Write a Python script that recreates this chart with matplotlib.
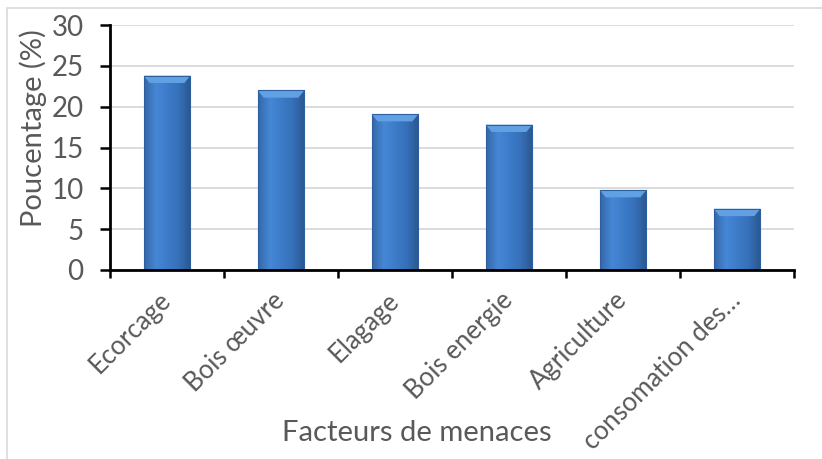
import matplotlib.pyplot as plt
import numpy as np
from matplotlib.colors import LinearSegmentedColormap
from matplotlib.patches import Polygon, Rectangle

categories = ["Ecorcage", "Bois œuvre", "Elagage", "Bois energie",
              "Agriculture", "consomation des…"]
values = [23.8, 22.0, 19.1, 17.8, 9.8, 7.5]
yticks = [0, 5, 10, 15, 20, 25, 30]

plt.rcParams['font.family'] = ['Lato', 'DejaVu Sans']
grey = '#595959'

fig = plt.figure(figsize=(8.22, 4.59), dpi=100)
ax = fig.add_axes([110 / 822, 1 - 270 / 459, 684 / 822, 245 / 459])

x = np.arange(len(categories))
bars = ax.bar(x, values, width=0.41, color='#3b78c6', edgecolor='none', zorder=3)

# horizontal shading + bevelled top on each bar
shade = LinearSegmentedColormap.from_list(
    'shade', ['#3567a8', '#4687d6', '#3d7bc8', '#3670b9', '#2a578e'])
grad = np.linspace(0, 1, 64).reshape(1, -1)
for b in bars:
    x0, w, h = b.get_x(), b.get_width(), b.get_height()
    im = ax.imshow(grad, cmap=shade, extent=[x0, x0 + w, 0, h], aspect='auto',
                   zorder=3.5, interpolation='bicubic')
    im.set_clip_path(b)
    bev = 0.9
    dx = w * 0.13
    ax.add_patch(Polygon([[x0, h], [x0 + w, h], [x0 + w - dx, h - bev], [x0 + dx, h - bev]],
                         closed=True, facecolor='#62a0e4', edgecolor='none', zorder=4))
ax.bar(x, values, width=0.41, fill=False, edgecolor='#2d5f9e', linewidth=0.8, zorder=5)

ax.set_xlim(-0.5, len(categories) - 0.5)
ax.set_ylim(0, 30)
ax.set_aspect('auto')

for s in ['top', 'right']:
    ax.spines[s].set_visible(False)
for s in ['left', 'bottom']:
    ax.spines[s].set_linewidth(2)
    ax.spines[s].set_color('black')
    ax.spines[s].set_zorder(6)

ax.yaxis.grid(True, color='#d9d9d9', linewidth=1.3, zorder=0)
ax.set_axisbelow(True)

ax.set_yticks(yticks)
ax.tick_params(axis='y', length=7, width=1.8, pad=12, labelsize=20, labelcolor=grey)

ax.set_xticks(np.arange(-0.5, len(categories)), [''] * (len(categories) + 1))
ax.tick_params(axis='x', which='major', length=6, width=1.8)
ax.set_xticks(x, categories, minor=True)
ax.tick_params(axis='x', which='minor', length=0, pad=19, labelsize=18.5, labelcolor=grey)
for lbl in ax.get_xticklabels(minor=True):
    lbl.set(rotation=45, ha='right', va='center', rotation_mode='anchor')

fig.text(33 / 822, 1 - 128 / 459, 'Poucentage (%)', rotation=90, ha='center', va='center',
         fontsize=21, color=grey)
fig.text(417 / 822, 1 - 433 / 459, 'Facteurs de menaces', ha='center', va='center',
         fontsize=21, color=grey)

# chart area border
fig.patches.append(Rectangle((7 / 822, -0.1), 1.2, 1.1 - 8 / 459, transform=fig.transFigure,
                             fill=False, edgecolor='#d9d9d9', linewidth=1.2))

fig.savefig('out.png', dpi=100)
